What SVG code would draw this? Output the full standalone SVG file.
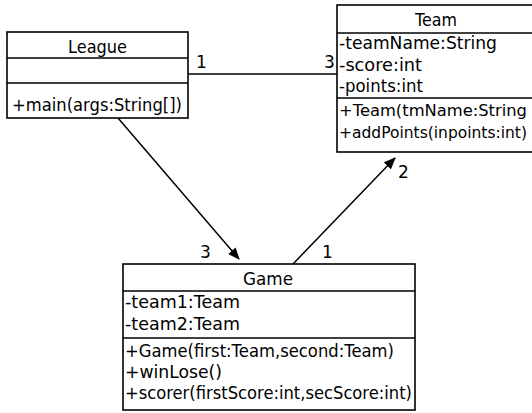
<svg xmlns="http://www.w3.org/2000/svg" width="532" height="413" viewBox="0 0 532 413">
<style>
.box{fill:#fff;stroke:#000;stroke-width:1.6}
.sep{stroke:#000;stroke-width:1.6}
text{font-family:"DejaVu Sans","Liberation Sans",sans-serif;font-size:17px;fill:#000}
.sm{font-size:15.4px}
.conn{stroke:#000;stroke-width:1.5;fill:none}
</style>
<defs>
<marker id="arr" markerWidth="12" markerHeight="10" refX="11" refY="5" orient="auto" markerUnits="userSpaceOnUse">
<path d="M0,0 L12,5 L0,10 Z" fill="#000"/>
</marker>
</defs>
<rect width="532" height="413" fill="#fff"/>
<g id="connectors">
<line class="conn" x1="188" y1="74" x2="337" y2="74"/>
<line class="conn" x1="118" y1="118" x2="239" y2="259" marker-end="url(#arr)"/>
<line class="conn" x1="293" y1="264" x2="395" y2="158" marker-end="url(#arr)"/>
<text x="196" y="68">1</text>
<text x="324" y="68">3</text>
<text x="200" y="258">3</text>
<text x="322" y="258">1</text>
<text x="398" y="178">2</text>
</g>
<g id="League">
<rect class="box" x="7" y="32" width="181" height="86"/>
<line class="sep" x1="7" y1="58" x2="188" y2="58"/>
<line class="sep" x1="7" y1="83" x2="188" y2="83"/>
<text x="68" y="53" textLength="59" lengthAdjust="spacingAndGlyphs">League</text>
<text x="12" y="111" textLength="170" lengthAdjust="spacingAndGlyphs">+main(args:String[])</text>
</g>
<g id="Team">
<rect class="box" x="337" y="5" width="200" height="147"/>
<line class="sep" x1="337" y1="33" x2="537" y2="33"/>
<line class="sep" x1="337" y1="98" x2="537" y2="98"/>
<text x="415" y="26" textLength="42" lengthAdjust="spacingAndGlyphs">Team</text>
<text x="339" y="49" textLength="158" lengthAdjust="spacingAndGlyphs">-teamName:String</text>
<text x="339" y="71" textLength="83" lengthAdjust="spacingAndGlyphs">-score:int</text>
<text x="339" y="92" textLength="84" lengthAdjust="spacingAndGlyphs">-points:int</text>
<text class="sm" x="339" y="116" textLength="188" lengthAdjust="spacingAndGlyphs">+Team(tmName:String</text>
<text class="sm" x="339" y="138" textLength="188" lengthAdjust="spacingAndGlyphs">+addPoints(inpoints:int)</text>
</g>
<g id="Game">
<rect class="box" x="123" y="264" width="292" height="146"/>
<line class="sep" x1="123" y1="291" x2="415" y2="291"/>
<line class="sep" x1="123" y1="338" x2="415" y2="338"/>
<text x="243" y="285" textLength="50" lengthAdjust="spacingAndGlyphs">Game</text>
<text x="125" y="308" textLength="115" lengthAdjust="spacingAndGlyphs">-team1:Team</text>
<text x="125" y="330" textLength="115" lengthAdjust="spacingAndGlyphs">-team2:Team</text>
<text x="125" y="357" textLength="269" lengthAdjust="spacingAndGlyphs">+Game(first:Team,second:Team)</text>
<text x="125" y="378" textLength="97" lengthAdjust="spacingAndGlyphs">+winLose()</text>
<text x="125" y="399" textLength="287" lengthAdjust="spacingAndGlyphs">+scorer(firstScore:int,secScore:int)</text>
</g>
</svg>
